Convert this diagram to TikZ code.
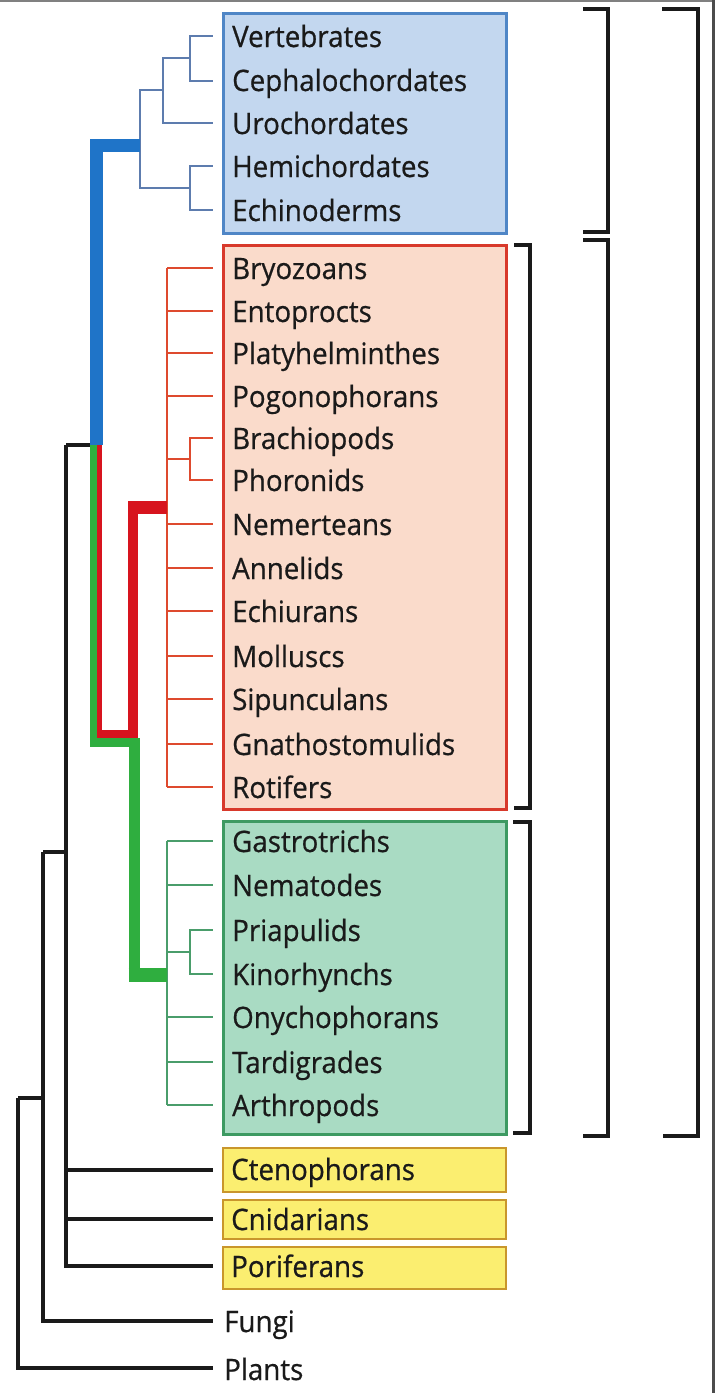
\documentclass[tikz,border=0pt]{standalone}
\usepackage{fontspec}
\setmainfont{Open Sans}[FakeStretch=0.94,FakeBold=0.6]
\definecolor{bfill}{HTML}{C3D7EF}
\definecolor{bdraw}{HTML}{4F86C6}
\definecolor{rfill}{HTML}{FADBCB}
\definecolor{rdraw}{HTML}{D8392B}
\definecolor{gfill}{HTML}{A9DBC3}
\definecolor{gdraw}{HTML}{3D9A62}
\definecolor{yfill}{HTML}{FBEE70}
\definecolor{ydraw}{HTML}{C9962C}
\definecolor{bthk}{HTML}{1F74C8}
\definecolor{rthk}{HTML}{D7141E}
\definecolor{gthk}{HTML}{2FAE3F}
\definecolor{bthn}{HTML}{5D7CAE}
\definecolor{rthn}{HTML}{DE4A2E}
\definecolor{gthn}{HTML}{4A9D6B}
\definecolor{ink}{HTML}{1A1A1A}
\begin{document}
\begin{tikzpicture}[x=1pt,y=-1pt,
  lab/.style={anchor=base west,inner sep=0pt,text=ink,font=\fontsize{29.5}{32}\selectfont},
  boxbase/.style={anchor=north west,minimum width=283pt,line width=2.6pt,inner sep=0pt},
  bluebox/.style={boxbase,draw=bdraw,fill=bfill},
  redbox/.style={boxbase,draw=rdraw,fill=rfill},
  greenbox/.style={boxbase,draw=gdraw,fill=gfill},
  yelbox/.style={boxbase,draw=ydraw,fill=yfill,line width=2.2pt},
  bthin/.style={draw=bthn,line width=2.6pt},
  rthin/.style={draw=rthn,line width=2.6pt},
  gthin/.style={draw=gthn,line width=2.6pt},
  blk/.style={draw=ink,line width=3.2pt},
  brk/.style={draw=ink,line width=3.6pt},
]
\useasboundingbox (0,0) rectangle (715,1393);
\fill[white] (0,0) rectangle (715,1393);
\draw[gray,line width=1.5pt] (0,0.75) -- (715,0.75);
\draw[black!70,line width=3pt] (713.5,0) -- (713.5,1393);

% boxes
\node[bluebox,minimum height=220pt] (bbox) at (222,12) {};
\node[redbox,minimum height=564pt] (rbox) at (222,244) {};
\node[greenbox,minimum height=313pt] (gbox) at (222,820) {};
\node[yelbox,minimum height=44pt] (ybox1) at (222,1147) {};
\node[yelbox,minimum height=39pt] (ybox2) at (222,1199) {};
\node[yelbox,minimum height=42pt] (ybox3) at (222,1246) {};

% labels (baseline = row + 10)
\node[lab] (Vert) at (232,47) {Vertebrates};
\node[lab] (Ceph) at (232,91) {Cephalochordates};
\node[lab] (Uro) at (232,134) {Urochordates};
\node[lab] (Hemi) at (232,177) {Hemichordates};
\node[lab] (Echi) at (232,221) {Echinoderms};
\node[lab] (Bryo) at (232,279) {Bryozoans};
\node[lab] (Ento) at (232,322) {Entoprocts};
\node[lab] (Plat) at (232,364) {Platyhelminthes};
\node[lab] (Pogo) at (232,407) {Pogonophorans};
\node[lab] (Brac) at (232,449) {Brachiopods};
\node[lab] (Phor) at (232,491) {Phoronids};
\node[lab] (Neme) at (232,535) {Nemerteans};
\node[lab] (Anne) at (232,579) {Annelids};
\node[lab] (Echu) at (232,622) {Echiurans};
\node[lab] (Moll) at (232,667) {Molluscs};
\node[lab] (Sipu) at (232,710) {Sipunculans};
\node[lab] (Gnat) at (232,755) {Gnathostomulids};
\node[lab] (Roti) at (232,798) {Rotifers};
\node[lab] (Gast) at (232,852) {Gastrotrichs};
\node[lab] (Nema) at (232,896) {Nematodes};
\node[lab] (Pria) at (232,941) {Priapulids};
\node[lab] (Kino) at (232,985) {Kinorhynchs};
\node[lab] (Onyc) at (232,1028) {Onychophorans};
\node[lab] (Tard) at (232,1073) {Tardigrades};
\node[lab] (Arth) at (232,1116) {Arthropods};
\node[lab] (Cten) at (231,1180) {Ctenophorans};
\node[lab] (Cnid) at (231,1230) {Cnidarians};
\node[lab] (Pori) at (231,1277) {Poriferans};
\node[lab] (Fung) at (224,1332) {Fungi};
\node[lab] (Plan) at (224,1380) {Plants};

% tip coordinates
\foreach \n/\y in {Vert/36,Ceph/81,Uro/123,Hemi/166,Echi/210,
  Bryo/268,Ento/311,Plat/353,Pogo/396,Brac/438,Phor/480,Neme/524,Anne/568,
  Echu/611,Moll/656,Sipu/699,Gnat/744,Roti/787,
  Gast/841,Nema/885,Pria/930,Kino/974,Onyc/1017,Tard/1062,Arth/1105,
  Cten/1170,Cnid/1219,Pori/1266,Fung/1321,Plan/1368}
  {\coordinate (t\n) at (213,\y);}

% blue clade
\coordinate (bA) at (190,58);
\coordinate (bB) at (163,90);
\coordinate (bC) at (190,188);
\coordinate (bD) at (140,145);
\draw[bthin] (bA) |- (tVert) (bA) |- (tCeph);
\draw[bthin] (bB) |- (bA) (bB) |- (tUro);
\draw[bthin] (bC) |- (tHemi) (bC) |- (tEchi);
\draw[bthin] (bD) |- (bB) (bD) |- (bC);

% red clade
\coordinate (rN) at (167,507);
\coordinate (rBP) at (190,459);
\draw[rthin] (rN |- tBryo) -- (rN |- tRoti);
\foreach \n in {Bryo,Ento,Plat,Pogo,Neme,Anne,Echu,Moll,Sipu,Gnat,Roti}
  {\draw[rthin] (rN |- t\n) -- (t\n);}
\draw[rthin] (rN |- rBP) -- (rBP) (rBP) |- (tBrac) (rBP) |- (tPhor);

% green clade
\coordinate (gN) at (167,975);
\coordinate (gPK) at (190,952);
\draw[gthin] (gN |- tGast) -- (gN |- tArth);
\foreach \n in {Gast,Nema,Onyc,Tard,Arth}
  {\draw[gthin] (gN |- t\n) -- (t\n);}
\draw[gthin] (gN |- gPK) -- (gPK) (gPK) |- (tPria) (gPK) |- (tKino);

% thick stems
\coordinate (bil) at (96,445);
\draw[draw=bthk,line width=13pt] (bil) |- (bD);
\draw[draw=gthk,line width=7pt] (93.5,445) -- (93.5,746.5);
\draw[draw=gthk,line width=9pt] (90,742) -- (139,742);
\draw[draw=gthk,line width=11pt] (134,738) -- (134,981);
\draw[draw=gthk,line width=14pt] (128.5,975) -- (gN);
\draw[draw=rthk,line width=5pt] (99.5,445) -- (99.5,738);
\draw[draw=rthk,line width=8pt] (97,734) -- (138,734);
\draw[draw=rthk,line width=10pt] (133,738) -- (133,501);
\draw[draw=rthk,line width=13pt] (128,507) -- (rN);

% black outgroups
\coordinate (kMet) at (66,445);
\coordinate (kOpi) at (43,852);
\coordinate (kEuk) at (18,1098);
\draw[blk] (kMet) -- (90,445);
\draw[blk] (kMet) |- (tPori);
\draw[blk] (kMet |- tCten) -- (tCten) (kMet |- tCnid) -- (tCnid);
\draw[blk] (kOpi) -- (kMet |- kOpi);
\draw[blk] (kOpi) |- (tFung);
\draw[blk] (kEuk) -- (kOpi |- kEuk);
\draw[blk] (kEuk) |- (tPlan);

% brackets
\draw[brk] (583,9) -- (608,9) -- (608,232) -- (583,232);
\draw[brk] (583,240) -- (608,240) -- (608,1136) -- (583,1136);
\draw[brk] (662,9) -- (698,9) -- (698,1136) -- (663,1136);
\draw[brk] (514,245) -- (530,245) -- (530,808) -- (514,808);
\draw[brk] (513,822) -- (530,822) -- (530,1133) -- (513,1133);
\end{tikzpicture}
\end{document}
